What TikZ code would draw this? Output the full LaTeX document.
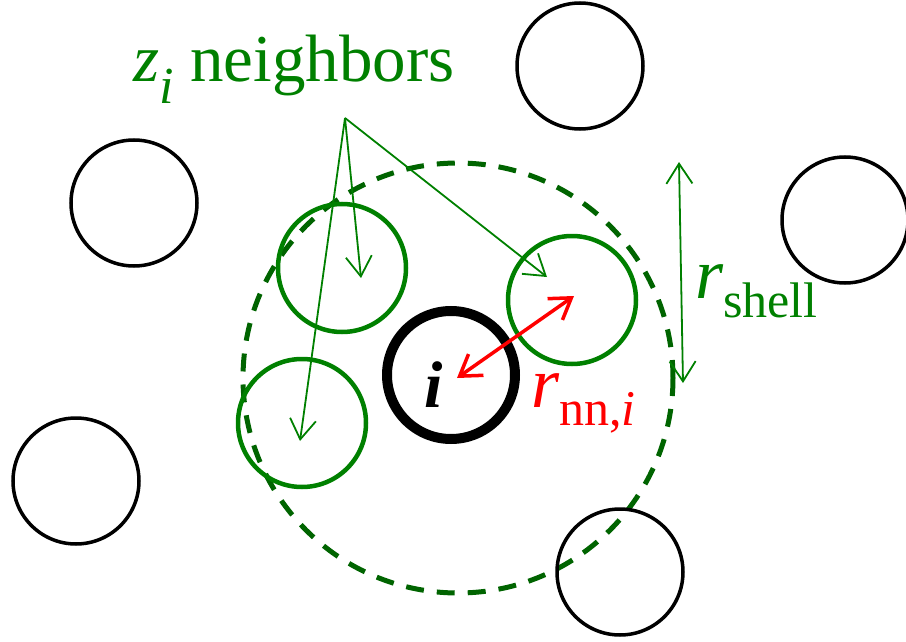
\documentclass[tikz,border=0pt]{standalone}
\usepackage{fontspec}
\setmainfont{Liberation Serif}
\usetikzlibrary{arrows.meta}
\definecolor{lgreen}{RGB}{0,128,0}
\definecolor{dgreen}{RGB}{0,100,0}
\newcommand{\mysub}[3]{\raisebox{-#1pt}{\fontsize{#2}{#2}\selectfont #3}}
\begin{document}
\begin{tikzpicture}[x=1pt,y=-1pt,
  blackball/.style={circle,draw=black,line width=3.5pt,minimum size=126pt,inner sep=0pt},
  greenball/.style={circle,draw=lgreen,line width=4.5pt,minimum size=128pt,inner sep=0pt},
  ptr/.style={draw=lgreen,line width=1.8pt,-{Straight Barb[length=20pt,width=26pt,line width=1.8pt]}},
  lbl/.style={inner sep=0pt,anchor=base west}]
\useasboundingbox (0,0) rectangle (906,642);
% shell
\node[circle,draw=dgreen,line width=5pt,dash pattern=on 18pt off 13pt,minimum size=430pt,inner sep=0pt] (shell) at (458,378) {};
% black particles
\node[blackball] (b1) at (580,66) {};
\node[blackball] (b2) at (134,203) {};
\node[blackball] (b3) at (845,220) {};
\node[blackball] (b4) at (76,481) {};
\node[blackball] (b5) at (620,572) {};
% green neighbors
\node[greenball] (g1) at (342,268) {};
\node[greenball] (g2) at (302,423) {};
\node[greenball] (g3) at (572,300) {};
% central particle
\node[circle,draw=black,line width=10pt,minimum size=128pt,inner sep=0pt] (ci) at (451,375) {};
\node[lbl] (ilab) at (424,407) {\fontsize{66}{70}\selectfont\bfseries\itshape i};
% label z_i neighbors
\node[lbl,text=lgreen] (zlab) at (133,82) {\fontsize{67}{70}\selectfont\itshape z\mysub{21}{52}{i}\upshape\ neighbors};
\coordinate (src) at (345,118);
\coordinate (t1) at (361,278);
\coordinate (t2) at (300,441);
\coordinate (t3) at (547,277);
\draw[ptr] (src) -- (t1);
\draw[ptr] (src) -- (t2);
\draw[ptr] (src) -- (t3);
% r_shell
\coordinate (s1) at (679,162);
\coordinate (s2) at (683,383);
\draw[draw=lgreen,line width=1.8pt,{Straight Barb[length=20pt,width=26pt,line width=1.8pt]}-{Straight Barb[length=20pt,width=26pt,line width=1.8pt]}] (s1) -- (s2);
\node[lbl,text=lgreen] (rshell) at (695,298) {\fontsize{72}{74}\selectfont\itshape r\upshape\mysub{19}{50}{shell}};
% r_nn,i
\coordinate (n1) at (457,378);
\coordinate (n2) at (574,296);
\draw[draw=red,line width=3.5pt,{Straight Barb[length=20pt,width=26pt,line width=3.5pt]}-{Straight Barb[length=20pt,width=26pt,line width=3.5pt]}] (n1) -- (n2);
\node[lbl,text=red] (rnn) at (531,407) {\fontsize{72}{74}\selectfont\itshape r\upshape\mysub{18}{50}{nn,\itshape i}};
\end{tikzpicture}
\end{document}
